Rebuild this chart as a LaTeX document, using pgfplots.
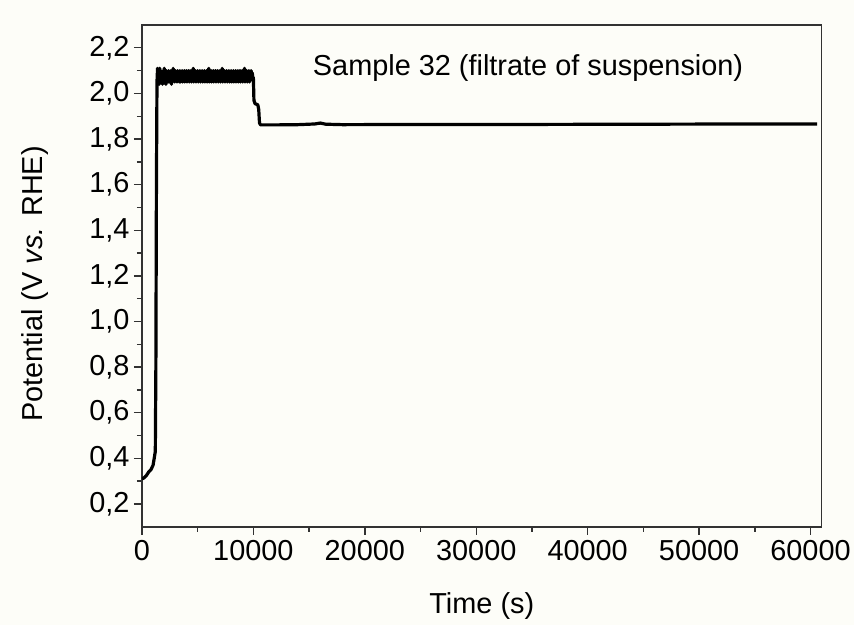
\documentclass[border=0pt]{standalone}
\usepackage{pgfplots}
\pgfplotsset{compat=1.18}
\usepackage{fontspec}
\setmainfont{Liberation Sans}
\definecolor{bg}{RGB}{253,253,248}
\definecolor{ax}{RGB}{50,50,50}
\begin{document}
\begin{tikzpicture}
\fill[bg] (-142bp,-98bp) rectangle (712bp,527bp);
\begin{axis}[
  at={(0,0)}, anchor=south west,
  scale only axis, width=680bp, height=502bp,
  xmin=0, xmax=61000, ymin=0.1, ymax=2.3,
  axis line style={ax, line width=1.6bp},
  every tick/.style={ax, line width=1.4bp},
  tick align=outside, tick pos=left,
  major tick length=8bp, minor tick length=5bp,
  xtick={0,10000,...,60000}, minor x tick num=1,
  ytick={0.2,0.4,...,2.21}, minor y tick num=1,
  scaled ticks=false,
  /pgf/number format/assume math mode=true,
  /pgf/number format/1000 sep={},
  xticklabel style={font=\fontsize{29}{34}\selectfont, /pgf/number format/fixed, yshift=-2bp},
  yticklabel style={font=\fontsize{29}{34}\selectfont, /pgf/number format/fixed, /pgf/number format/fixed zerofill, /pgf/number format/precision=1, /pgf/number format/use comma, xshift=-1bp},
  xlabel={Time (s)}, ylabel={Potential (V \textit{vs.} RHE)},
  every axis x label/.style={at={(axis description cs:0.5,-0.157)}, anchor=center, font=\fontsize{29}{34}\selectfont},
  every axis y label/.style={at={(axis description cs:-0.157,0.484)}, anchor=center, rotate=90, font=\fontsize{29}{34}\selectfont},
  axis background/.style={fill=bg},
  clip=true,
]
\addplot[black, line width=3.2bp, line join=round] coordinates {
(0,0.31) (200,0.315) (400,0.325) (600,0.34) (800,0.35) (1000,0.37) (1100,0.40) (1200,0.43) (1250,0.8) (1300,1.6) (1350,2.05)
(1400,2.11) (1450,2.05) (1500,2.09) (1550,2.04) (1600,2.11) (1650,2.06) (1700,2.10) (1750,2.05) (1800,2.09) (1850,2.04)
(1900,2.10) (1950,2.06) (2000,2.11) (2050,2.05) (2100,2.08) (2150,2.04) (2200,2.10) (2250,2.06) (2300,2.09) (2350,2.05)
(2400,2.10) (2450,2.05) (2500,2.08) (2550,2.06) (2600,2.10) (2650,2.04) (2700,2.09) (2750,2.05) (2800,2.11) (2850,2.06)
(2900,2.09) (2950,2.05) (3000,2.10) (3050,2.06) (3100,2.08) (3150,2.05) (3200,2.10) (3250,2.06) (3300,2.09) (3350,2.05)
(3400,2.10) (3450,2.05) (3500,2.08) (3550,2.06) (3600,2.10) (3650,2.05) (3700,2.09) (3750,2.06) (3800,2.10) (3850,2.05)
(3900,2.09) (3950,2.06) (4000,2.10) (4050,2.05) (4100,2.08) (4150,2.06) (4200,2.10) (4250,2.05) (4300,2.09) (4350,2.06)
(4400,2.10) (4450,2.05) (4500,2.08) (4550,2.06) (4600,2.11) (4650,2.05) (4700,2.09) (4750,2.06) (4800,2.10) (4850,2.05)
(4900,2.09) (4950,2.06) (5000,2.10) (5050,2.05) (5100,2.08) (5150,2.06) (5200,2.10) (5250,2.05) (5300,2.09) (5350,2.06)
(5400,2.10) (5450,2.05) (5500,2.09) (5550,2.06) (5600,2.10) (5650,2.05) (5700,2.08) (5750,2.06) (5800,2.10) (5850,2.05)
(5900,2.09) (5950,2.06) (6000,2.11) (6050,2.05) (6100,2.09) (6150,2.06) (6200,2.10) (6250,2.05) (6300,2.08) (6350,2.06)
(6400,2.10) (6450,2.05) (6500,2.09) (6550,2.06) (6600,2.10) (6650,2.05) (6700,2.09) (6750,2.06) (6800,2.10) (6850,2.05)
(6900,2.08) (6950,2.06) (7000,2.10) (7050,2.05) (7100,2.09) (7150,2.06) (7200,2.11) (7250,2.05) (7300,2.09) (7350,2.06)
(7400,2.10) (7450,2.05) (7500,2.08) (7550,2.06) (7600,2.10) (7650,2.05) (7700,2.09) (7750,2.06) (7800,2.10) (7850,2.05)
(7900,2.09) (7950,2.06) (8000,2.10) (8050,2.05) (8100,2.08) (8150,2.06) (8200,2.10) (8250,2.05) (8300,2.09) (8350,2.06)
(8400,2.10) (8450,2.05) (8500,2.09) (8550,2.06) (8600,2.10) (8650,2.05) (8700,2.08) (8750,2.06) (8800,2.10) (8850,2.05)
(8900,2.09) (8950,2.06) (9000,2.10) (9050,2.05) (9100,2.09) (9150,2.06) (9200,2.11) (9250,2.05) (9300,2.09) (9350,2.06)
(9400,2.10) (9450,2.05) (9500,2.09) (9550,2.06) (9600,2.10) (9650,2.05) (9700,2.09) (9750,2.06) (9800,2.10) (9850,2.06)
(9900,2.09) (9950,2.07) (10000,2.07)
(10050,1.97) (10150,1.955) (10400,1.95) (10480,1.93) (10550,1.87) (10650,1.862)
(12000,1.862) (14000,1.863) (15500,1.866) (16000,1.87) (16500,1.865) (18000,1.863) (25000,1.864) (35000,1.864) (45000,1.865) (55000,1.866) (60600,1.866)
};
\node[font=\fontsize{29}{34}\selectfont, anchor=center] at (axis cs:34650,2.11) {Sample 32 (filtrate of suspension)};
\end{axis}
\end{tikzpicture}
\end{document}
